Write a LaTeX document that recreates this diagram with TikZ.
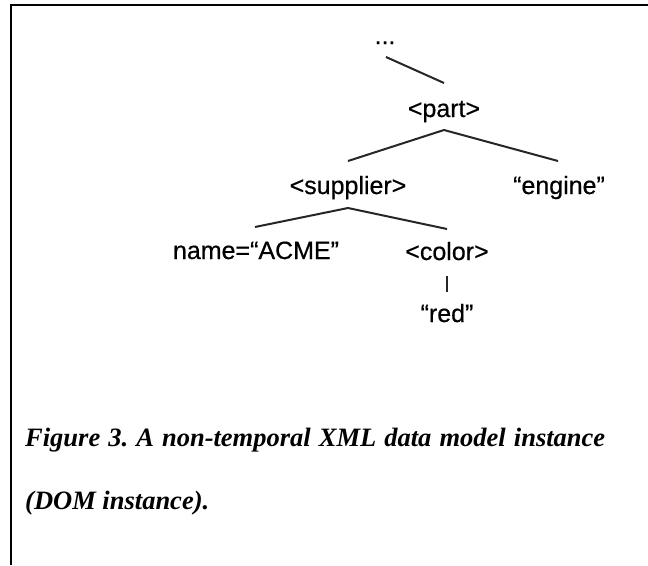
\documentclass[tikz,border=0pt]{standalone}
\usepackage{fontspec}
\setmainfont{Liberation Serif}
\newfontfamily\treefont[FakeBold=0.5]{Liberation Sans}
\frenchspacing
\begin{document}
\begin{tikzpicture}[x=1pt,y=-1pt,
  lbl/.style={font=\treefont\fontsize{25}{30}\selectfont, inner sep=0pt, anchor=base},
  caption/.style={font=\bfseries\itshape\fontsize{26.5}{30}\selectfont, inner sep=0pt, anchor=base west},
  edge/.style={line width=2pt, black!85},
  frame/.style={line width=1.6pt, black}]
\useasboundingbox (0,0) rectangle (648,565);
\draw[frame] (11,565) -- (11,5) -- (648,5);

\node[lbl] (dots) at (385,44) {...};
\node[lbl] (part) at (444,117) {<part>};
\node[lbl] (supplier) at (348,194) {<supplier>};
\node[lbl] (engine) at (559,194) {“engine”};
\node[lbl] (name) at (256,259) {name=“ACME”};
\node[lbl] (color) at (447,260) {<color>};
\node[lbl] (red) at (447,322) {“red”};

\coordinate (a0) at (386,57);
\coordinate (a1) at (444,83);
\coordinate (p0) at (444,130);
\coordinate (p1) at (348,161);
\coordinate (p2) at (558,161);
\coordinate (s0) at (348,208);
\coordinate (s1) at (255,227);
\coordinate (s2) at (447,229);
\coordinate (c0) at (447,276);
\coordinate (c1) at (447,292);

\draw[edge] (a0) -- (a1);
\draw[edge] (p1) -- (p0) -- (p2);
\draw[edge] (s1) -- (s0) -- (s2);
\draw[edge] (c0) -- (c1);

\node[caption] (cap1) at (25,446) {\makebox[580pt][s]{Figure 3. A non-temporal XML data model instance}};
\node[caption] (cap2) at (25,509) {(DOM instance).};
\end{tikzpicture}
\end{document}
